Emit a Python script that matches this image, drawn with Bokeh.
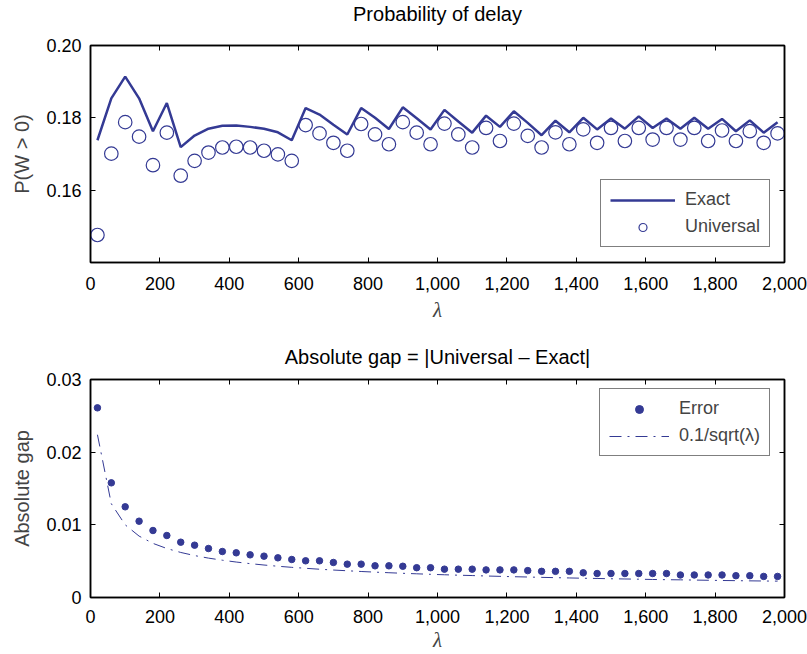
from bokeh.plotting import figure
from bokeh.models import (Range1d, LinearAxis, FixedTicker, NumeralTickFormatter,
                          PrintfTickFormatter, Legend, LegendItem)
from bokeh.layouts import column
from bokeh.embed import file_html
from bokeh.resources import INLINE

# ---------------- data ----------------
lam = [20, 60, 100, 140, 180, 220, 260, 300, 340, 380, 420, 460, 500, 540, 580,
       620, 660, 700, 740, 780, 820, 860, 900, 940, 980, 1020, 1060, 1100, 1140,
       1180, 1220, 1260, 1300, 1340, 1380, 1420, 1460, 1500, 1540, 1580, 1620,
       1660, 1700, 1740, 1780, 1820, 1860, 1900, 1940, 1980]

exact = [0.1738, 0.1854, 0.1914, 0.1854, 0.1763, 0.1841, 0.1719, 0.1751, 0.1770,
         0.1778, 0.1779, 0.1775, 0.1770, 0.1760, 0.1738, 0.1827, 0.1809, 0.1781,
         0.1754, 0.1827, 0.1800, 0.1769, 0.1829, 0.1799, 0.1768, 0.1822, 0.1790,
         0.1759, 0.1806, 0.1775, 0.1818, 0.1786, 0.1752, 0.1792, 0.1760, 0.1800,
         0.1768, 0.1798, 0.1770, 0.1804, 0.1772, 0.1798, 0.1770, 0.1800, 0.1770,
         0.1797, 0.1763, 0.1793, 0.1759, 0.1788]

universal = [0.1476, 0.1701, 0.1788, 0.1748, 0.1669, 0.1759, 0.1640, 0.1681, 0.1704,
             0.1718, 0.1720, 0.1718, 0.1709, 0.1699, 0.1681, 0.1780, 0.1757, 0.1731,
             0.1709, 0.1783, 0.1754, 0.1727, 0.1788, 0.1759, 0.1727, 0.1784, 0.1754,
             0.1718, 0.1772, 0.1736, 0.1784, 0.1750, 0.1718, 0.1760, 0.1727, 0.1768,
             0.1731, 0.1772, 0.1736, 0.1772, 0.1740, 0.1772, 0.1740, 0.1772, 0.1736,
             0.1765, 0.1736, 0.1763, 0.1731, 0.1757]

error = [0.0261, 0.01578, 0.01248, 0.0105, 0.00922, 0.00853, 0.00761, 0.0072, 0.00674,
         0.00633, 0.00615, 0.00587, 0.00569, 0.00546, 0.00523, 0.00505, 0.00505,
         0.00482, 0.00459, 0.00459, 0.00436, 0.00436, 0.0043, 0.0041, 0.0041, 0.0039,
         0.0039, 0.0039, 0.0038, 0.0038, 0.0038, 0.0037, 0.0036, 0.0036, 0.0036,
         0.0034, 0.0033, 0.0033, 0.0033, 0.0033, 0.0033, 0.0033, 0.0031, 0.0031,
         0.0031, 0.0031, 0.0030, 0.0030, 0.0029, 0.0029]

ref_curve = [0.0224, 0.0129, 0.0100, 0.00845, 0.00745, 0.00674, 0.00620, 0.00577,
             0.00542, 0.00513, 0.00488, 0.00466, 0.00447, 0.00430, 0.00415, 0.00402,
             0.00389, 0.00378, 0.00368, 0.00358, 0.00349, 0.00341, 0.00333, 0.00326,
             0.00319, 0.00313, 0.00307, 0.00302, 0.00296, 0.00291, 0.00286, 0.00282,
             0.00277, 0.00273, 0.00269, 0.00265, 0.00262, 0.00258, 0.00255, 0.00252,
             0.00248, 0.00245, 0.00243, 0.00240, 0.00237, 0.00234, 0.00232, 0.00229,
             0.00227, 0.00225]

x_ticks = [0, 200, 400, 600, 800, 1000, 1200, 1400, 1600, 1800, 2000]
top_yticks = [0.16, 0.18, 0.20]
bot_yticks = [0, 0.01, 0.02, 0.03]

# ---------------- style ----------------
BLUE = "#343a94"
FONT = "Liberation Sans"
TICK_FS = "18px"
LABEL_FS = "20px"
TITLE_FS = "20px"


def style_axes(p, yticks, yfmt, ylabel, title_gap, xtick_standoff, xlabel_standoff,
               overrides=None):
    xb = p.below[0]
    yl = p.left[0]
    xb.ticker = FixedTicker(ticks=x_ticks)
    xb.formatter = NumeralTickFormatter(format="0,0")
    yl.ticker = FixedTicker(ticks=yticks)
    yl.formatter = yfmt
    if overrides:
        yl.major_label_overrides = overrides
    xt = LinearAxis(ticker=FixedTicker(ticks=x_ticks),
                    major_label_overrides={t: "" for t in x_ticks})
    yr = LinearAxis(ticker=FixedTicker(ticks=yticks),
                    major_label_overrides={t: "" for t in yticks})
    p.add_layout(xt, "above")
    p.add_layout(yr, "right")
    for ax in (xb, yl, xt, yr):
        ax.major_tick_in = 5
        ax.major_tick_out = 0
        ax.minor_tick_line_color = None
        ax.axis_line_color = "black"
        ax.axis_line_width = 1.5
        ax.major_tick_line_width = 1
        ax.major_label_text_font = FONT
        ax.major_label_text_font_size = TICK_FS
        ax.major_label_text_color = "black"
        ax.major_label_standoff = 9
    for ax in (xt, yr):
        ax.major_label_text_font_size = "1px"
        ax.major_label_standoff = 0
    # invisible spacer between the frame and the title
    spacer = LinearAxis(ticker=FixedTicker(ticks=x_ticks),
                        major_label_overrides={t: "" for t in x_ticks},
                        major_label_text_font_size="1px", major_label_standoff=0,
                        major_tick_in=0, major_tick_out=title_gap,
                        major_tick_line_color=None, minor_tick_line_color=None,
                        axis_line_color=None)
    p.add_layout(spacer, "above")
    xb.major_label_standoff = xtick_standoff
    xb.axis_label = "λ"
    xb.axis_label_text_font = "Liberation Serif"
    xb.axis_label_text_font_style = "italic"
    xb.axis_label_text_font_size = "21px"
    xb.axis_label_standoff = xlabel_standoff
    yl.axis_label = ylabel
    yl.axis_label_text_font = FONT
    yl.axis_label_text_font_style = "normal"
    yl.axis_label_text_font_size = LABEL_FS
    yl.axis_label_standoff = 10
    p.xgrid.grid_line_color = None
    p.ygrid.grid_line_color = None
    p.outline_line_color = "black"
    p.outline_line_width = 1.5
    p.title.align = "center"
    p.title.text_font = FONT
    p.title.text_font_size = TITLE_FS
    p.title.text_font_style = "normal"
    p.title.text_color = "black"
    p.title.standoff = 0


# ---------------- top plot ----------------
p1 = figure(width=807, height=324, x_range=Range1d(0, 2000), y_range=Range1d(0.14, 0.20),
            title="Probability of delay", output_backend="svg", toolbar_location=None,
            min_border_left=90, min_border_right=23, min_border_top=43, min_border_bottom=61)
style_axes(p1, top_yticks, PrintfTickFormatter(format="%.2f"), "P(W > 0)", 21, 14, 5)

r_exact = p1.line(lam, exact, line_color=BLUE, line_width=2.5)
r_univ = p1.scatter(lam, universal, marker="circle", size=13.5, fill_color=None,
                    line_color=BLUE, line_width=1.2)

leg1 = Legend(items=[LegendItem(label="Exact", renderers=[r_exact]),
                     LegendItem(label="Universal", renderers=[r_univ])],
              location=(510, 15), glyph_width=65, glyph_height=20, label_standoff=10,
              padding=9, spacing=6, border_line_color="black", border_line_width=1.5,
              label_text_font=FONT, label_text_font_size=TICK_FS, background_fill_alpha=1,
              margin=0)
p1.add_layout(leg1, "center")

# ---------------- bottom plot ----------------
p2 = figure(width=807, height=330, x_range=Range1d(0, 2000), y_range=Range1d(0, 0.03),
            title="Absolute gap = |Universal \u2013 Exact|", output_backend="svg",
            toolbar_location=None,
            min_border_left=90, min_border_right=23, min_border_top=55, min_border_bottom=57)
style_axes(p2, bot_yticks, PrintfTickFormatter(format="%.2f"), "Absolute gap", 12, 12, 2,
           overrides={0: "0"})

r_err = p2.scatter(lam, error, marker="circle", size=6.5, fill_color=BLUE, line_color=BLUE)
r_ref = p2.line(lam, ref_curve, line_color=BLUE, line_width=1, line_dash="12 6 2 6")

leg2 = Legend(items=[LegendItem(label="Error", renderers=[r_err]),
                     LegendItem(label="0.1/sqrt(λ)", renderers=[r_ref])],
              location=(509, 141), glyph_width=60, glyph_height=20, label_standoff=10,
              padding=9, spacing=6, border_line_color="black", border_line_width=1.5,
              label_text_font=FONT, label_text_font_size=TICK_FS, background_fill_alpha=1,
              margin=0)
p2.add_layout(leg2, "center")

layout = column(p1, p2, spacing=0)
open("out.html", "w").write(file_html(layout, INLINE))
